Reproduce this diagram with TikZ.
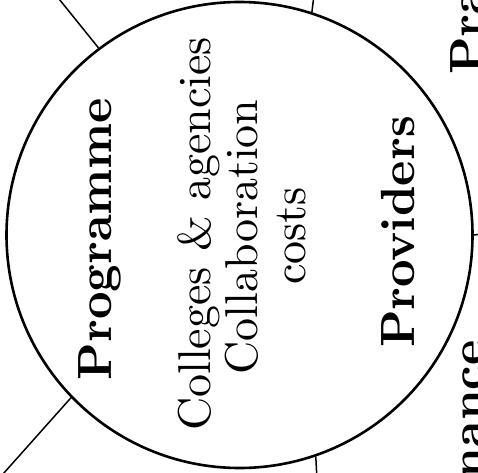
\documentclass[tikz,border=0pt]{standalone}
\usepackage{fontspec}
\setmainfont{lmroman10-regular.otf}[BoldFont=lmroman10-bold.otf]
\begin{document}
\begin{tikzpicture}[x=1pt,y=1pt,
  hubring/.style={circle, draw, line width=2.6pt, minimum size=466pt, inner sep=0pt},
  spoke/.style={line width=1.5pt},
  heading/.style={rotate=90, anchor=base, inner sep=0pt, font=\fontsize{48}{50}\selectfont\bfseries},
  entry/.style={rotate=90, anchor=base, inner sep=0pt, font=\fontsize{46}{48}\selectfont},
]
\useasboundingbox (0,0) rectangle (478,472);
\fill[white] (0,0) rectangle (478,472);
\clip (0,0) rectangle (478,472);

% central ring
\node[hubring] (hub) at (239.5,237) {};

% free ends of the dividing spokes
\coordinate (tl) at (55,478);
\coordinate (tr) at (314,477);
\coordinate (rt) at (492,239);
\coordinate (br) at (317,-8);
\coordinate (bl) at (-5,-11);

\draw[spoke] (hub.127.2) -- (tl);
\draw[spoke] (hub.72.6) -- (tr);
\draw[spoke] (hub.0.5) -- (rt);
\draw[spoke] (hub.-71.7) -- (br);
\draw[spoke] (hub.224.4) -- (bl);

% texts inside the ring
\node[heading] (prog) at (111,233) {Programme};
\node[entry] (coll) at (210,238) {Colleges \& agencies};
\node[entry] (collab) at (257,235) {Collaboration};
\node[entry] (costs) at (305,236) {costs};
\node[heading] (prov) at (414,240) {Providers};

% neighbouring segment labels at the edge
\node[heading, anchor=base west] (pra) at (483,397) {Pra};
\node[heading, anchor=base east] (nance) at (484,132) {nance};
\end{tikzpicture}
\end{document}
